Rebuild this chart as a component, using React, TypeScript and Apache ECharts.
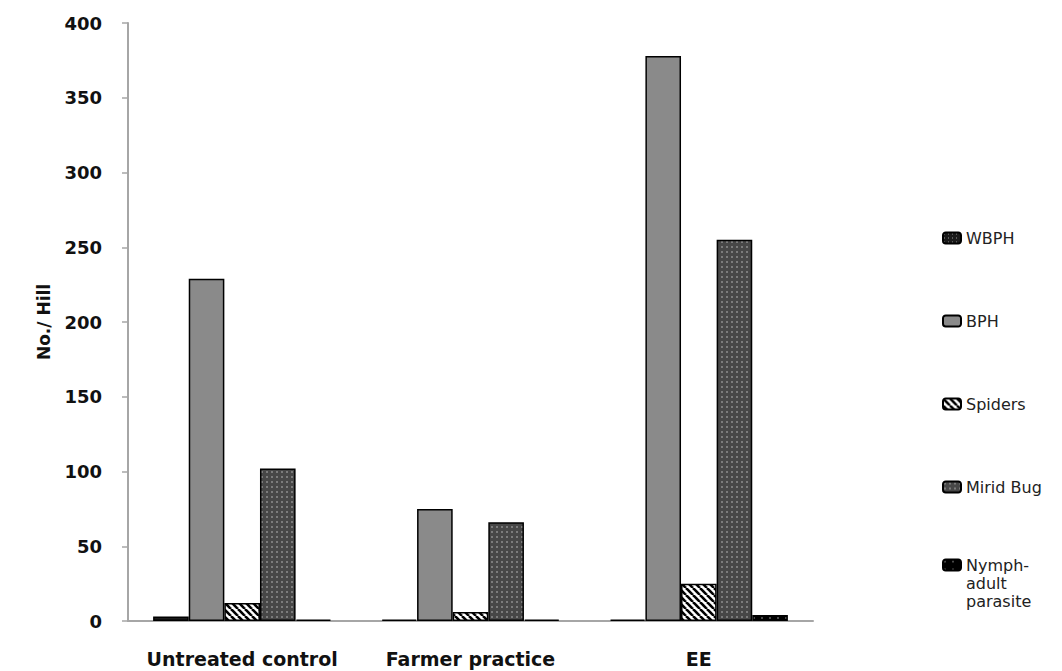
import React, { useEffect, useRef } from "react";
import * as echarts from "echarts";

// Treatments on the category axis
const categories = ["Untreated control", "Farmer practice", "EE"];

// Counts per hill for each insect group
const wbph = [3, 1, 1];
const bph = [229, 75, 378];
const spiders = [12, 6, 25];
const miridBug = [102, 66, 255];
const nymphAdultParasite = [1, 1, 4];

const yTicks = { min: 0, max: 400, interval: 50 };

type Tile = (ctx: CanvasRenderingContext2D, s: number) => void;

function makePattern(size: number, draw: Tile) {
  const c = document.createElement("canvas");
  c.width = size;
  c.height = size;
  const ctx = c.getContext("2d")!;
  draw(ctx, size);
  return { image: c, repeat: "repeat", imageWidth: size, imageHeight: size } as any;
}

function dots(base: string, dot: string, dotSize: number): Tile {
  return (ctx, s) => {
    ctx.fillStyle = base;
    ctx.fillRect(0, 0, s, s);
    ctx.fillStyle = dot;
    ctx.fillRect(1, 1, dotSize, dotSize);
  };
}

const stripes: Tile = (ctx, s) => {
  ctx.fillStyle = "#ffffff";
  ctx.fillRect(0, 0, s, s);
  ctx.strokeStyle = "#000000";
  ctx.lineWidth = 2.6;
  for (const off of [-s, 0, s]) {
    ctx.beginPath();
    ctx.moveTo(off, 0);
    ctx.lineTo(off + s, s);
    ctx.stroke();
  }
};

const PARASITE = "Nymph-\nadult\nparasite";

export default function App() {
  const ref = useRef<HTMLDivElement>(null);

  useEffect(() => {
    if (!ref.current) return;
    const chart = echarts.init(ref.current, undefined, { renderer: "svg" });

    const fills = {
      WBPH: makePattern(4, dots("#1a1a1a", "#9a9a9a", 1)),
      BPH: "#8a8a8a",
      Spiders: makePattern(7, stripes),
      "Mirid Bug": makePattern(5, dots("#474747", "#7c7c7c", 2)),
      [PARASITE]: makePattern(8, dots("#000000", "#4a4a4a", 2)),
    } as Record<string, any>;

    const seriesData: [string, number[]][] = [
      ["WBPH", wbph],
      ["BPH", bph],
      ["Spiders", spiders],
      ["Mirid Bug", miridBug],
      [PARASITE, nymphAdultParasite],
    ];

    const legendText = {
      color: "#222222",
      fontFamily: "DejaVu Sans",
      fontSize: 16,
      lineHeight: 18,
    };

    chart.setOption({
      animation: false,
      backgroundColor: "#ffffff",
      grid: { left: 128, right: 249, top: 23, bottom: 50, containLabel: false },
      legend: [
        {
          orient: "vertical",
          left: 942,
          top: 229,
          padding: 0,
          itemWidth: 18,
          itemHeight: 11,
          itemGap: 65,
          selectedMode: false,
          data: ["WBPH", "BPH", "Spiders", "Mirid Bug"],
          textStyle: legendText,
        },
        {
          orient: "vertical",
          left: 942,
          top: 520,
          padding: 0,
          itemWidth: 18,
          itemHeight: 11,
          selectedMode: false,
          data: [PARASITE],
          // two leading blank lines keep the first line level with the icon
          formatter: (name: string) => "\n\n" + name,
          textStyle: legendText,
        },
      ],
      xAxis: {
        type: "category",
        data: categories,
        axisLine: { lineStyle: { color: "#a6a6a6", width: 2 } },
        axisTick: { show: false },
        axisLabel: {
          interval: 0,
          color: "#111111",
          fontFamily: "DejaVu Sans",
          fontWeight: "bold",
          fontSize: 19,
          margin: 28,
        },
      },
      yAxis: {
        type: "value",
        ...yTicks,
        name: "No./ Hill",
        nameLocation: "middle",
        nameGap: 76,
        nameTextStyle: {
          color: "#111111",
          fontFamily: "DejaVu Sans",
          fontWeight: "bold",
          fontSize: 17,
        },
        axisLine: { show: true, lineStyle: { color: "#a6a6a6", width: 2 } },
        axisTick: { show: true, length: 6, lineStyle: { color: "#a6a6a6", width: 1.5 } },
        splitLine: { show: false },
        axisLabel: {
          color: "#111111",
          fontFamily: "DejaVu Sans",
          fontWeight: "bold",
          fontSize: 18,
          margin: 26,
        },
      },
      series: seriesData.map(([name, values]) => ({
        name,
        type: "bar",
        data: values,
        barGap: "0%",
        barCategoryGap: "22%",
        itemStyle: {
          color: fills[name],
          borderColor: "#000000",
          borderWidth: 1.5,
        },
      })),
    });

    return () => chart.dispose();
  }, []);

  return (
    <div
      ref={ref}
      style={{ position: "fixed", left: 0, top: 0, width: 1062, height: 671 }}
    />
  );
}
